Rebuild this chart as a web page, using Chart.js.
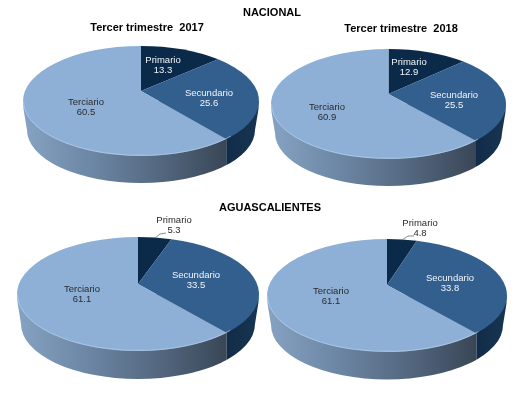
<!DOCTYPE html>
<html>
<head>
<meta charset="utf-8">
<script src="https://cdn.jsdelivr.net/npm/chart.js@4"></script>
<style>
    html, body { margin: 0; padding: 0; background: #fff; }
    canvas { display: block; filter: blur(0.35px); }
</style>
</head>
<body>
<canvas id="sectorChart" width="518" height="394"></canvas>
<script>
// Data
const sectors = ['Primario', 'Secundario', 'Terciario'];
const nacional2017 = [13.3, 25.6, 60.5];
const nacional2018 = [12.9, 25.5, 60.9];
const aguascalientes2017 = [5.3, 33.5, 61.1];
const aguascalientes2018 = [4.8, 33.8, 61.1];

const sliceColors = ['#0b2a4a', '#335f8f', '#8eb0d6'];
const labelColors = [
    ['#f2f5f9', '#f2f5f9', '#2a2a2a'],
    ['#f2f5f9', '#f2f5f9', '#2a2a2a'],
    ['#2a2a2a', '#f2f5f9', '#2a2a2a'],
    ['#2a2a2a', '#f2f5f9', '#2a2a2a']
];

// Where each pie sits on the page, the apex is above the ellipse centre because of the perspective
const panels = [
    { cx: 141, cy: 101, rx: 118, ry: 55, apexY: 91, depth: 27,
      labels: [[163, 60], [209, 93], [86, 102]] },
    { cx: 388.5, cy: 104, rx: 117.5, ry: 55, apexY: 94, depth: 27,
      labels: [[409, 62], [454, 95], [327, 107]] },
    { cx: 138, cy: 294, rx: 121, ry: 57, apexY: 284, depth: 28,
      labels: [[174, 220], [196, 275], [82, 289]],
      leader: [[155, 238], [160, 234], [166, 233]] },
    { cx: 387, cy: 295.5, rx: 120, ry: 56.5, apexY: 285, depth: 27.5,
      labels: [[420, 223], [450, 278], [331, 291]],
      leader: [[402, 240], [408, 236], [414, 236]] }
];

const headings = [
    { text: 'NACIONAL', x: 272, y: 13, font: 'bold 11px "Liberation Sans"' },
    { text: 'AGUASCALIENTES', x: 270, y: 208, font: 'bold 11px "Liberation Sans"' },
    { text: 'Tercer trimestre  2017', x: 147, y: 28, font: 'bold 11px "Liberation Sans"' },
    { text: 'Tercer trimestre  2018', x: 401, y: 29, font: 'bold 11px "Liberation Sans"' }
];

// Circle angle -> point on the tilted pie top
function project(p, angle) {
    const k = -(p.cy - p.apexY) / p.ry;
    const u = Math.cos(angle);
    const v = -Math.sin(angle);
    const w = 1 - k * v;
    return {
        x: p.cx + p.rx * Math.sqrt(1 - k * k) * u / w,
        y: p.cy - p.ry * (v - k) / w
    };
}

function wallPath(ctx, p) {
    const bottomRx = p.rx - 4;
    const bottomRy = p.ry - 2;
    const bottomCy = p.cy + p.depth + 2;
    ctx.beginPath();
    ctx.moveTo(p.cx - p.rx + 0.5, p.cy + 8);
    ctx.lineTo(p.cx - bottomRx, bottomCy);
    ctx.ellipse(p.cx, bottomCy, bottomRx, bottomRy, 0, Math.PI, 0, true);
    ctx.lineTo(p.cx + p.rx - 0.5, p.cy + 8);
    ctx.lineTo(p.cx + p.rx - 0.5, p.cy);
    ctx.lineTo(p.cx - p.rx + 0.5, p.cy);
    ctx.closePath();
}

function drawWalls(ctx, p, arcs) {
    arcs.forEach((arc, i) => {
        const startFront = Math.sin(arc.startAngle) > 0;
        const endFront = Math.sin(arc.endAngle) > 0;
        if (!startFront && !endFront) return;
        const x0 = endFront ? project(p, arc.endAngle).x : p.cx - p.rx - 1;
        const x1 = startFront ? project(p, arc.startAngle).x : p.cx + p.rx + 1;

        const fill = ctx.createLinearGradient(x0, 0, x1, 0);
        if (i === 2) {
            fill.addColorStop(0, '#87a3c3');
            fill.addColorStop(0.3, '#6f8aa8');
            fill.addColorStop(0.7, '#52657d');
            fill.addColorStop(1, '#394656');
        } else {
            fill.addColorStop(0, '#112c48');
            fill.addColorStop(1, '#173552');
        }
        ctx.save();
        ctx.beginPath();
        ctx.rect(x0, 0, x1 - x0, 394);
        ctx.clip();
        wallPath(ctx, p);
        ctx.fillStyle = fill;
        ctx.fill();
        ctx.restore();
    });
}

function drawTop(ctx, p, arcs) {
    arcs.forEach((arc, i) => {
        const a = project(p, arc.startAngle);
        const b = project(p, arc.endAngle);
        const phiA = Math.atan2((a.y - p.cy) / p.ry, (a.x - p.cx) / p.rx);
        const phiB = Math.atan2((b.y - p.cy) / p.ry, (b.x - p.cx) / p.rx);
        ctx.beginPath();
        ctx.moveTo(p.cx, p.apexY);
        ctx.lineTo(a.x, a.y);
        ctx.ellipse(p.cx, p.cy, p.rx, p.ry, 0, phiA, phiB);
        ctx.closePath();
        ctx.fillStyle = sliceColors[i];
        ctx.fill();
    });
    // thin light rim on the front edge
    ctx.beginPath();
    ctx.ellipse(p.cx, p.cy, p.rx - 0.5, p.ry - 0.5, 0, 0.7, Math.PI);
    ctx.strokeStyle = 'rgba(190, 212, 236, 0.6)';
    ctx.lineWidth = 1;
    ctx.stroke();
}

// Pie tops and walls are worked out from the arc elements the library computed
const tiltedPie = {
    id: 'tiltedPie',
    beforeDatasetDraw(chart, args) {
        const ctx = chart.ctx;
        const p = panels[args.index];
        const arcs = chart.getDatasetMeta(args.index).data;
        drawWalls(ctx, p, arcs);
        drawTop(ctx, p, arcs);
        return false;
    },
    afterDraw(chart) {
        const ctx = chart.ctx;
        ctx.save();
        ctx.textAlign = 'center';
        ctx.textBaseline = 'middle';

        panels.forEach((p, n) => {
            const values = chart.data.datasets[n].data;
            ctx.font = '9.5px "Liberation Sans"';
            sectors.forEach((name, i) => {
                const [x, y] = p.labels[i];
                ctx.fillStyle = labelColors[n][i];
                ctx.fillText(name, x, y);
                ctx.fillText(values[i].toFixed(1), x, y + 10.5);
            });
            if (p.leader) {
                ctx.beginPath();
                p.leader.forEach(([x, y], i) => i ? ctx.lineTo(x, y) : ctx.moveTo(x, y));
                ctx.strokeStyle = '#8a8a8a';
                ctx.lineWidth = 1;
                ctx.stroke();
            }
        });

        ctx.fillStyle = '#000000';
        headings.forEach(h => {
            ctx.font = h.font;
            ctx.fillText(h.text, h.x, h.y);
        });
        ctx.restore();
    }
};

const ctxSector = document.getElementById('sectorChart').getContext('2d');
const sectorChart = new Chart(ctxSector, {
    type: 'pie',
    data: {
        labels: sectors,
        datasets: [
            { label: 'Nacional 2017', data: nacional2017, backgroundColor: sliceColors },
            { label: 'Nacional 2018', data: nacional2018, backgroundColor: sliceColors },
            { label: 'Aguascalientes 2017', data: aguascalientes2017, backgroundColor: sliceColors },
            { label: 'Aguascalientes 2018', data: aguascalientes2018, backgroundColor: sliceColors }
        ]
    },
    options: {
        responsive: false,
        animation: false,
        plugins: {
            legend: { display: false },
            title: { display: false },
            tooltip: { enabled: false }
        }
    },
    plugins: [tiltedPie]
});
</script>
</body>
</html>
